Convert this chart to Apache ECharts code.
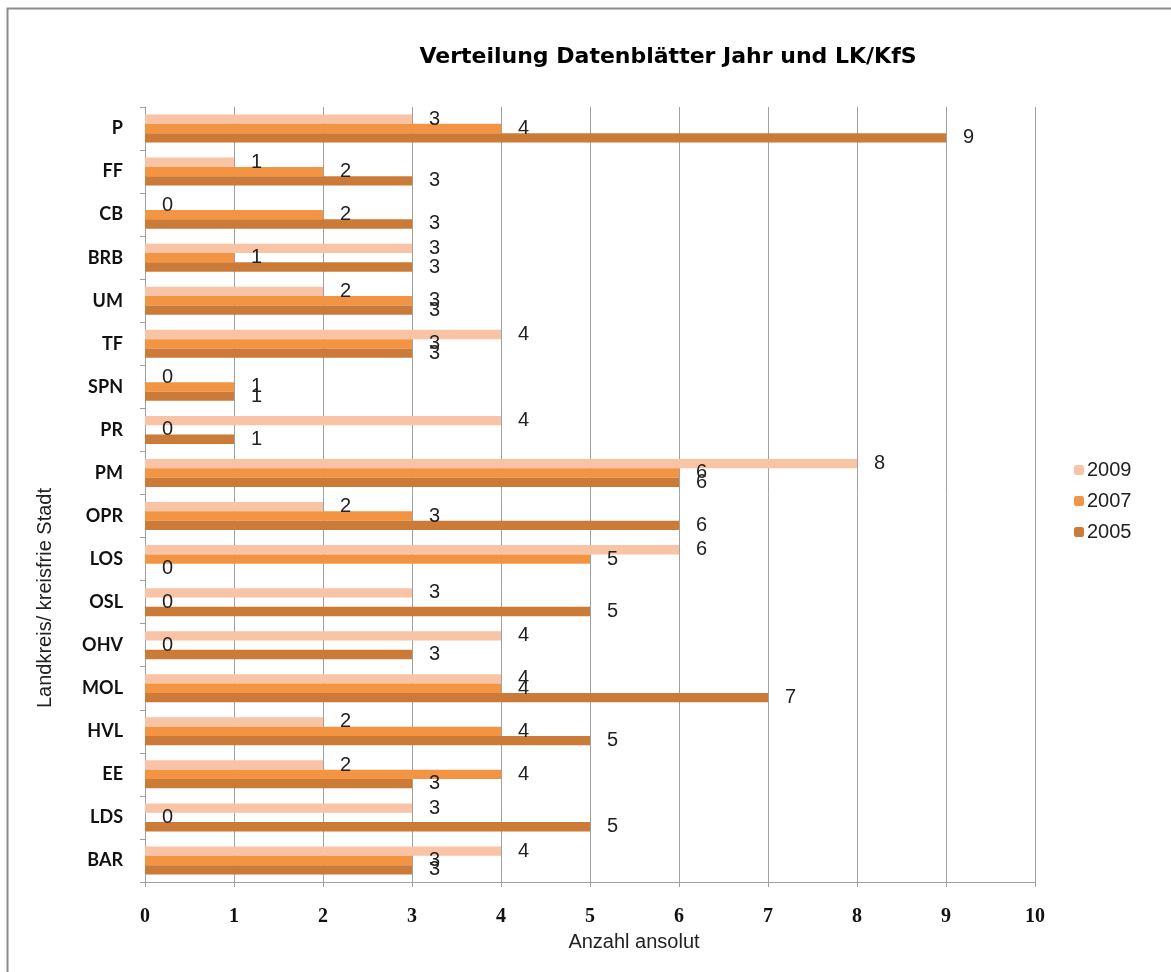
<!DOCTYPE html>
<html>
<head>
<meta charset="utf-8">
<script src="https://cdn.jsdelivr.net/npm/echarts@6/dist/echarts.min.js"></script>
<style>html,body{margin:0;padding:0;background:#fff}#c{width:1171px;height:972px}</style>
</head>
<body>
<div id="c"></div>
<script>
// categories from bottom to top
const categories = ['BAR','LDS','EE','HVL','MOL','OHV','OSL','LOS','OPR','PM','PR','SPN','TF','UM','BRB','CB','FF','P'];
const values2009 = [4,3,2,2,4,4,3,6,2,8,4,0,4,2,3,0,1,3];
const values2007 = [3,0,4,4,4,0,0,5,3,6,0,1,3,3,1,2,2,4];
const values2005 = [3,5,3,5,7,3,5,0,6,6,1,1,3,3,3,3,3,9];
const xTicks = [0,1,2,3,4,5,6,7,8,9,10];
const titleText = 'Verteilung Datenblätter Jahr und LK/KfS';
const xName = 'Anzahl ansolut';
const yName = 'Landkreis/ kreisfrie Stadt';

const chart = echarts.init(document.getElementById('c'));
const lbl = {show:true, position:'right', distance:17, fontSize:20, color:'#222', fontFamily:'Liberation Sans, Arial'};
function mk(name, data, color){
  return {name, type:'bar', data, itemStyle:{color}, label:lbl, barGap:'0%', barCategoryGap:'35%'};
}
chart.setOption({
  animation:false,
  title:{text:titleText, left:663, top:41, textAlign:'center',
    textStyle:{fontSize:22, fontWeight:'bold', color:'#000', fontFamily:'DejaVu Sans, Verdana'}},
  legend:{orient:'vertical', left:1069, top:455, itemWidth:10, itemHeight:10, itemGap:11,
    data:['2009','2007','2005'],
    textStyle:{fontSize:20, lineHeight:20, color:'#222', fontFamily:'Liberation Sans, Arial', padding:[0,0,0,-2]}},
  grid:{left:145, right:136, top:107, bottom:90},
  xAxis:{type:'value', min:0, max:10, interval:1,
    axisLine:{show:true, lineStyle:{color:'#a0a0a0'}},
    axisTick:{show:true, length:5, lineStyle:{color:'#a0a0a0'}},
    splitLine:{show:true, lineStyle:{color:'#a0a0a0', width:1}},
    axisLabel:{fontSize:20, fontWeight:'bold', color:'#111', margin:25, fontFamily:'Liberation Serif, serif',
      formatter:v=>String(xTicks[v] !== undefined ? xTicks[v] : v)}},
  yAxis:{type:'category', data:categories,
    axisLine:{show:true, lineStyle:{color:'#a0a0a0'}},
    axisTick:{show:true, length:5, lineStyle:{color:'#a0a0a0'}},
    axisLabel:{fontSize:18, fontWeight:'bold', color:'#111', margin:22, fontFamily:'Lato, Open Sans, sans-serif'}},
  graphic:[
    {type:'rect', shape:{x:7.5, y:8.5, width:1300, height:1100}, style:{fill:null, stroke:'#8c8c8c', lineWidth:2}, silent:true},
    {type:'text', x:634, y:942, style:{text:xName, fontSize:20, fill:'#222', fontFamily:'Liberation Sans, Arial', align:'center', verticalAlign:'middle'}},
    {type:'text', x:45, y:598, rotation:Math.PI/2, style:{text:yName, fontSize:20, fill:'#222', fontFamily:'Liberation Sans, Arial', align:'center', verticalAlign:'middle'}}
  ],
  series:[
    mk('2009', values2009, '#f9c3a6'),
    mk('2007', values2007, '#f39443'),
    mk('2005', values2005, '#cc7a37')
  ]
});
</script>
</body>
</html>
